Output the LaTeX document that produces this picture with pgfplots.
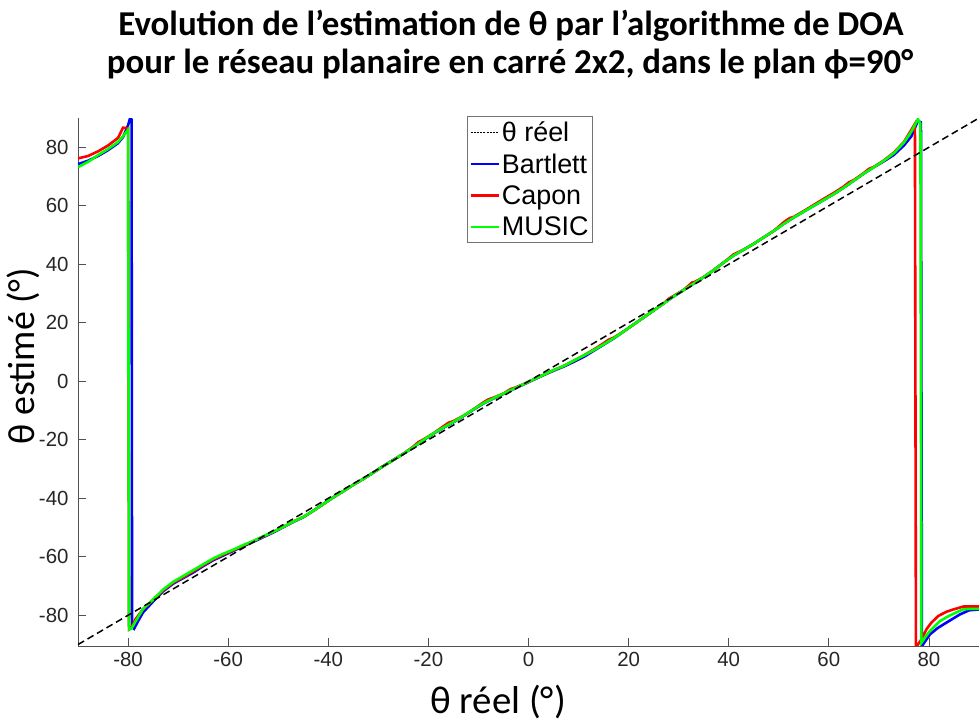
\documentclass[border=0pt]{standalone}
\usepackage{pgfplots}
\pgfplotsset{compat=1.18}
\usepackage{pgfplotstable}
\usepackage{fontspec}
\setmainfont{Liberation Sans}
\newfontfamily\calfont{Carlito}
\usetikzlibrary{calc}

\pgfplotstableread{
x y
-90 -90
90 90
}\reel

\pgfplotstableread{
x y
-90 74.2
-88 75.4
-86 77.0
-84 79.0
-82 81.4
-81 83.5
-80.0 87.5
-79.6 89.9
-79.3 89.5
-79.2 -84.0
-78.8 -84.6
-78 -82.0
-77 -79.0
-75 -75.3
-73 -71.8
-71 -69.2
-69 -67.3
-67 -65.4
-65 -63.2
-63 -61.2
-61 -59.6
-59 -58.0
-57 -56.4
-55 -54.9
-53 -53.3
-51 -51.7
-49 -49.9
-47 -48.1
-45 -46.5
-43 -44.3
-41 -42.0
-39 -39.7
-37 -37.6
-35 -35.4
-33 -33.4
-31 -31.2
-29 -29.0
-27 -26.9
-25 -24.8
-23 -22.6
-21 -20.2
-19 -17.9
-17 -15.9
-15 -14.0
-13 -11.9
-11 -9.7
-9 -7.6
-7 -5.9
-5 -4.3
-3 -2.7
-1 -1.1
1 0.5
3 2.1
5 3.6
7 5.0
9 6.6
11 8.3
13 10.4
15 12.5
17 14.6
19 17.0
21 19.4
23 21.8
25 24.2
27 26.6
29 29.0
31 31.2
33 33.4
35 35.6
37 38.0
39 40.6
41 43.0
43 45.0
45 47.0
47 49.2
49 51.4
51 53.8
53 56.0
55 58.0
57 60.0
59 62.0
61 64.0
63 66.2
65 68.6
67 71.0
69 73.2
71 75.2
73 77.4
75 80.6
76.5 83.8
77.8 89.0
78.4 88.5
78.6 -90.5
79.2 -89.0
80.2 -86.5
81.8 -84.3
83.5 -82.5
86.2 -79.7
88 -78.3
90 -78.0
}\bartlett

\pgfplotstableread{
x y
-90 76.2
-88 77.0
-86 78.6
-84 80.6
-82 83.2
-81.0 86.7
-80.0 86.5
-79.8 -84.8
-79.3 -84.2
-78.5 -81.3
-77 -77.9
-75 -74.8
-73 -71.5
-71 -68.9
-69 -67.0
-67 -65.0
-65 -62.9
-63 -60.9
-61 -59.3
-59 -57.8
-57 -56.2
-55 -54.7
-53 -53.1
-51 -51.5
-49 -49.8
-47 -48.0
-45 -46.4
-43 -44.3
-41 -42.0
-39 -39.7
-37 -37.6
-35 -35.4
-33 -33.4
-31 -31.2
-29 -29.0
-27 -26.9
-25 -24.8
-23 -22.3
-22 -20.8
-21 -19.9
-19 -17.8
-17 -15.4
-16 -14.2
-15 -13.6
-13 -11.8
-11 -9.6
-9 -7.2
-8 -6.2
-7 -5.6
-5 -4.2
-3.5 -2.6
-3 -2.4
-1 -1.0
1 0.6
3 2.2
5 3.8
7 5.2
9 7.0
11 8.8
13 10.8
15 13.0
16 14.2
17 14.9
19 17.0
21 19.4
23 21.8
25 24.2
27 26.6
28 28.2
29 29.2
31 31.2
32.7 33.8
33 33.8
35 35.6
37 38.0
39 40.6
41 43.4
43 45.0
45 47.0
47 49.2
49 51.4
51 54.4
52.2 55.8
53 56.2
55 58.2
57 60.3
59 62.4
61 64.4
63 66.6
64 68.0
65 68.8
67 71.2
68 72.6
69 73.3
71 75.5
73 78.2
75 81.8
76.5 86.0
77.2 88.0
77.4 -90.0
77.8 -90.0
78.4 -88.5
79.5 -84.8
80.5 -82.5
81.9 -80.2
83.5 -78.8
84.9 -78.0
86.9 -77.0
90 -77.0
}\capon

\pgfplotstableread{
x y
-90 73.2
-88 75.0
-86 77.3
-84 79.4
-82 81.8
-81 83.8
-80.0 86.0
-79.8 -84.8
-79.3 -84.5
-78.3 -81.5
-77 -77.8
-75 -74.6
-73 -71.2
-71 -68.6
-69 -66.6
-67 -64.6
-65 -62.6
-63 -60.6
-61 -59.0
-59 -57.6
-57 -56.0
-55 -54.6
-53 -53.0
-51 -51.5
-49 -49.8
-47 -48.0
-45 -46.4
-43 -44.3
-41 -42.0
-39 -39.7
-37 -37.6
-35 -35.4
-33 -33.4
-31 -31.2
-29 -29.0
-27 -26.9
-25 -24.8
-23 -22.5
-21 -20.1
-19 -17.8
-17 -15.8
-15 -13.9
-13 -11.8
-11 -9.6
-9 -7.5
-7 -5.8
-5 -4.2
-3 -2.6
-1 -1.0
1 0.6
3 2.2
5 3.8
7 5.2
9 7.0
11 8.8
13 10.6
15 12.6
17 14.7
19 17.0
21 19.4
23 21.8
25 24.2
27 26.6
29 29.0
31 31.2
33 33.4
35 35.6
37 38.0
39 40.6
41 43.0
43 45.0
45 47.0
47 49.2
49 51.4
51 53.8
53 56.0
55 58.0
57 60.0
59 62.0
61 64.0
63 66.2
65 68.6
67 71.0
69 73.2
71 75.4
73 78.0
75 81.6
76.5 85.4
77.8 89.6
78.3 88.0
78.5 -89.4
79.2 -87.6
80.2 -85.4
82.2 -82.0
84.0 -80.2
85.5 -79.0
86.8 -78.0
88 -77.8
90 -77.8
}\music

\definecolor{axgray}{RGB}{80,80,80}
\definecolor{lbl}{RGB}{38,38,38}

\begin{document}
\begin{tikzpicture}
\begin{axis}[
  at={(0,0)}, anchor=south west,
  scale only axis, width=901bp, height=528bp,
  xmin=-90, xmax=90, ymin=-90.5, ymax=90,
  axis x line*=bottom, axis y line*=left,
  axis line style={axgray, line width=0.8bp},
  tick style={axgray, line width=0.8bp},
  tick align=inside, major tick length=8bp,
  xtick={-80,-60,-40,-20,0,20,40,60,80},
  ytick={-80,-60,-40,-20,0,20,40,60,80},
  xticklabels={-80,-60,-40,-20,0,20,40,60,80},
  yticklabels={-80,-60,-40,-20,0,20,40,60,80},
  ticklabel style={font=\fontsize{20.5}{24}\selectfont, text=lbl},
  xticklabel style={yshift=-3bp},
  yticklabel style={xshift=-6bp},
  legend style={at={(0.4317,1.004)}, anchor=north west,
    draw=black!55, line width=0.8bp,
    font=\fontsize{27}{31}\selectfont, inner xsep=2bp, inner ysep=3bp,
    row sep=7bp},
  legend cell align=left,
  legend image code/.code={\draw[#1] (0bp,0bp) -- (28bp,0bp);},
]
\addlegendimage{black, line width=0.8bp, dash pattern=on 2bp off 1.2bp}
\addlegendentry{θ réel}
\addplot[blue, line width=2.6bp] table {\bartlett};
\addlegendentry{Bartlett}
\addplot[red, line width=2.6bp] table {\capon};
\addlegendentry{Capon}
\addplot[green, line width=2.6bp] table {\music};
\addlegendentry{MUSIC}
\addplot[black, line width=1.5bp, dash pattern=on 7bp off 4bp, forget plot] table {\reel};
\end{axis}
\node[font=\calfont\bfseries\fontsize{35}{40}\selectfont] at (433bp,620bp) {Evolution de l’estimation de θ par l’algorithme de DOA};
\node[font=\calfont\bfseries\fontsize{35}{40}\selectfont] at (432bp,582bp) {pour le réseau planaire en carré 2x2, dans le plan ϕ=90°};
\node[font=\calfont\fontsize{39}{44}\selectfont] at (420bp,-56bp) {θ réel (°)};
\node[font=\calfont\fontsize{38}{44}\selectfont, rotate=90] at (-55bp,290bp) {θ estimé (°)};
\pgfresetboundingbox
\path[use as bounding box] (-78bp,-80bp) rectangle (901bp,646bp);
\end{tikzpicture}
\end{document}
